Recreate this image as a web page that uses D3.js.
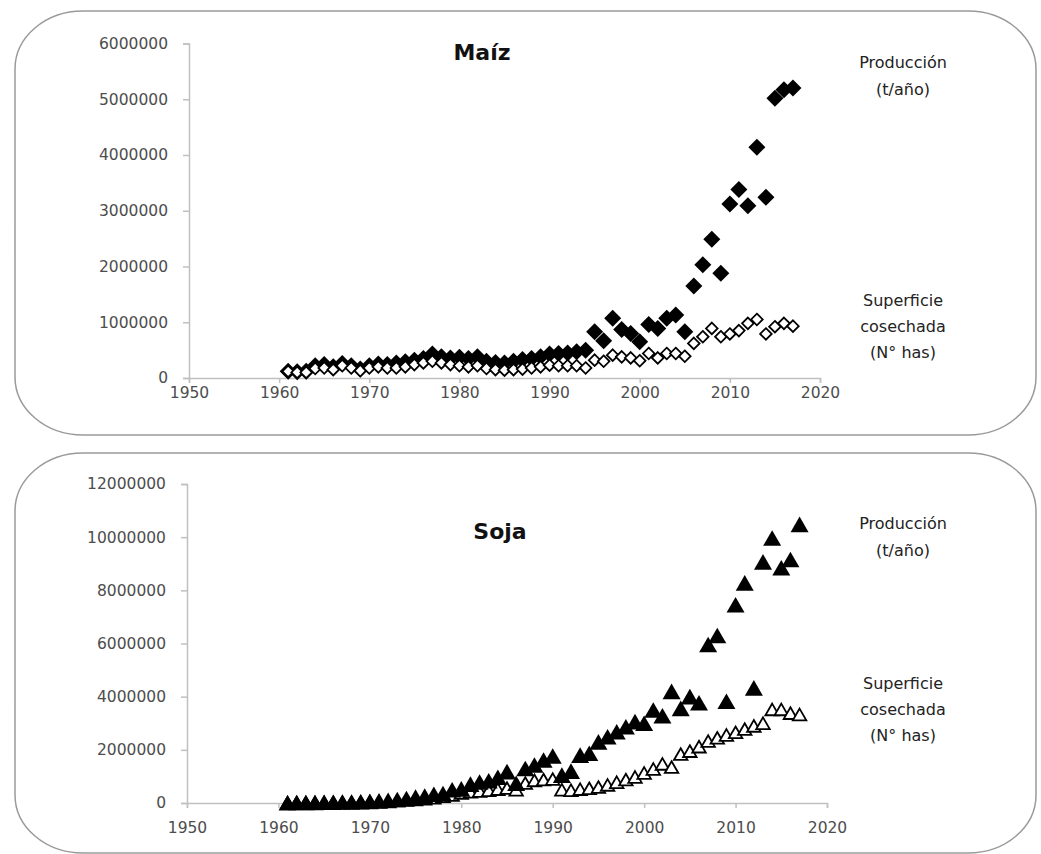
<!DOCTYPE html>
<html>
<head>
<meta charset="utf-8">
<script src="https://d3js.org/d3.v7.min.js"></script>
<style type="text/css">
body {
	margin: 0;
	background: #ffffff;
}
text {
	font-family: "DejaVu Sans", sans-serif;
}
</style>
</head>
<body>
<div id="chart"></div>
<script type="text/javascript">
// years 1961 - 2017
var years = d3.range(1961, 2018);

var maizProduccion = [
	120000, 110000, 120000, 220000, 240000, 200000, 260000, 220000, 160000, 220000,
	250000, 240000, 270000, 290000, 320000, 350000, 430000, 380000, 360000, 370000,
	350000, 380000, 300000, 280000, 270000, 300000, 330000, 350000, 380000, 430000,
	440000, 450000, 470000, 500000, 830000, 670000, 1070000, 870000, 800000, 650000,
	960000, 890000, 1070000, 1130000, 830000, 1650000, 2030000, 2490000, 1880000, 3120000,
	3380000, 3090000, 4140000, 3240000, 5020000, 5170000, 5200000
];
var maizSuperficie = [
	120000, 100000, 100000, 170000, 180000, 150000, 220000, 180000, 130000, 180000,
	200000, 180000, 180000, 200000, 240000, 270000, 300000, 270000, 240000, 220000,
	200000, 220000, 170000, 150000, 140000, 150000, 160000, 180000, 200000, 230000,
	220000, 220000, 220000, 180000, 320000, 300000, 410000, 380000, 360000, 310000,
	440000, 360000, 440000, 440000, 390000, 620000, 740000, 890000, 740000, 790000,
	850000, 980000, 1050000, 790000, 920000, 980000, 930000
];
var sojaProduccion = [
	10000, 20000, 20000, 20000, 30000, 30000, 40000, 40000, 50000, 60000,
	80000, 100000, 130000, 170000, 220000, 260000, 330000, 360000, 500000, 530000,
	710000, 790000, 840000, 970000, 1180000, 740000, 1300000, 1430000, 1620000, 1770000,
	1050000, 1200000, 1800000, 1870000, 2300000, 2490000, 2680000, 2870000, 3060000, 3000000,
	3500000, 3280000, 4200000, 3560000, 4000000, 3770000, 5960000, 6300000, 3830000, 7460000,
	8280000, 4330000, 9070000, 9970000, 8850000, 9160000, 10480000
];
var sojaSuperficie = [
	10000, 15000, 15000, 20000, 20000, 25000, 30000, 30000, 35000, 45000,
	55000, 65000, 90000, 110000, 130000, 160000, 200000, 250000, 300000, 380000,
	420000, 450000, 480000, 520000, 560000, 500000, 750000, 850000, 880000, 900000,
	500000, 480000, 520000, 550000, 600000, 680000, 780000, 880000, 980000, 1130000,
	1280000, 1470000, 1350000, 1840000, 1950000, 2120000, 2330000, 2450000, 2560000, 2660000,
	2780000, 2900000, 3000000, 3520000, 3520000, 3380000, 3330000
];

var xTicks = [1950, 1960, 1970, 1980, 1990, 2000, 2010, 2020];
var maizYTicks = [0, 1000000, 2000000, 3000000, 4000000, 5000000, 6000000];
var sojaYTicks = [0, 2000000, 4000000, 6000000, 8000000, 10000000, 12000000];

var width = 1041;
var height = 854;

var svg = d3.select("#chart")
	.append("svg")
	.attr("width", width)
	.attr("height", height);

// excel style markers, centred on their box
function diamondPath(r) {
	return "M0," + (-r) + "L" + r + ",0L0," + r + "L" + (-r) + ",0Z";
}
function trianglePath(w) {
	var h = w * 0.866;
	return "M0," + (-h / 2) + "L" + (w / 2) + "," + (h / 2) + "L" + (-w / 2) + "," + (h / 2) + "Z";
}

var panels = [
	{
		box: {x: 15, y: 11, w: 1021, h: 424},
		xRange: [189, 820],
		yRange: [378, 43.5],
		yMax: 6000000,
		yTicks: maizYTicks,
		xLabelPad: 4,
		title: "Maíz", titleX: 482, titleY: 60,
		prod: maizProduccion, sup: maizSuperficie,
		filledPath: diamondPath(8.5), openPath: diamondPath(5.8),
		prodOnTop: false,
		prodLabelY: 62, supLabelY: 300
	},
	{
		box: {x: 15, y: 453, w: 1021, h: 400},
		xRange: [187, 827],
		yRange: [803, 484],
		yMax: 12000000,
		yTicks: sojaYTicks,
		xLabelPad: 14,
		title: "Soja", titleX: 500, titleY: 539,
		prod: sojaProduccion, sup: sojaSuperficie,
		filledPath: trianglePath(18), openPath: trianglePath(13.5),
		prodOnTop: true,
		prodLabelY: 523, supLabelY: 683
	}
];

panels.forEach(function(p) {
	var g = svg.append("g");

	g.append("rect")
		.attr("x", p.box.x)
		.attr("y", p.box.y)
		.attr("width", p.box.w)
		.attr("height", p.box.h)
		.attr("rx", 68)
		.attr("ry", 58)
		.attr("fill", "none")
		.attr("stroke", "#9a9a9a")
		.attr("stroke-width", 1.5);

	var x = d3.scaleLinear().domain([1950, 2020]).range(p.xRange);
	var y = d3.scaleLinear().domain([0, p.yMax]).range(p.yRange);

	var yAxis = g.append("g")
		.attr("transform", "translate(" + p.xRange[0] + ",0)")
		.call(d3.axisLeft(y).tickValues(p.yTicks).tickSize(6).tickPadding(15).tickFormat(d3.format("d")));

	var xAxis = g.append("g")
		.attr("transform", "translate(0," + p.yRange[0] + ")")
		.call(d3.axisBottom(x).tickValues(xTicks).tickSize(5).tickPadding(p.xLabelPad).tickFormat(d3.format("d")));

	[yAxis, xAxis].forEach(function(a) {
		a.select(".domain").attr("stroke", "#c0c0c0").attr("stroke-width", 1.5);
		a.selectAll(".tick line").attr("stroke", "#c0c0c0").attr("stroke-width", 1.5);
		a.selectAll(".tick text")
			.attr("fill", "#4d4d4d")
			.style("font-size", "15.5px")
			.style("font-family", "'DejaVu Sans', sans-serif");
	});

	function drawProd() {
		g.append("g").selectAll("path")
			.data(p.prod)
			.enter()
			.append("path")
			.attr("d", p.filledPath)
			.attr("transform", function(d, i) {
				return "translate(" + x(years[i]) + "," + y(d) + ")";
			})
			.attr("fill", "#000000");
	}
	function drawSup() {
		g.append("g").selectAll("path")
			.data(p.sup)
			.enter()
			.append("path")
			.attr("d", p.openPath)
			.attr("transform", function(d, i) {
				return "translate(" + x(years[i]) + "," + y(d) + ")";
			})
			.attr("fill", "#ffffff")
			.attr("stroke", "#000000")
			.attr("stroke-width", 1.8);
	}
	if (p.prodOnTop) {
		drawSup();
		drawProd();
	} else {
		drawProd();
		drawSup();
	}

	g.append("text")
		.attr("x", p.titleX)
		.attr("y", p.titleY)
		.attr("text-anchor", "middle")
		.attr("font-weight", "bold")
		.attr("font-size", "22px")
		.attr("fill", "#111111")
		.text(p.title);

	var labels = [
		{t: "Producción", y: p.prodLabelY},
		{t: "(t/año)", y: p.prodLabelY + 27},
		{t: "Superficie", y: p.supLabelY},
		{t: "cosechada", y: p.supLabelY + 26},
		{t: "(N° has)", y: p.supLabelY + 52}
	];
	g.selectAll(".side-label")
		.data(labels)
		.enter()
		.append("text")
		.attr("class", "side-label")
		.attr("x", 903)
		.attr("y", function(d) { return d.y; })
		.attr("dy", "0.35em")
		.attr("text-anchor", "middle")
		.attr("font-size", "16px")
		.attr("fill", "#222222")
		.text(function(d) { return d.t; });
});
</script>
</body>
</html>
